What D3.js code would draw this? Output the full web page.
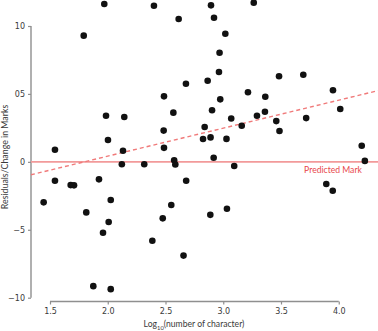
<!DOCTYPE html>
<html>
<head>
<meta charset="utf-8">
<script src="https://cdn.jsdelivr.net/npm/d3@7/dist/d3.min.js"></script>
<style>
  html, body { margin: 0; padding: 0; background: #fff; }
  svg { display: block; }
</style>
</head>
<body>
<script>
// Log10 of character count for each item
const logChars = [
  1.970, 2.400, 2.614, 1.792, 2.677, 2.487, 1.985, 2.143, 2.568, 2.484,
  2.002, 1.543, 2.132, 2.487, 2.575, 2.122, 2.316, 2.585, 2.894, 3.264,
  2.920, 3.018, 2.968, 2.963, 2.865, 3.483, 3.693, 3.950, 3.214, 3.364,
  2.974, 2.903, 4.013, 3.292, 3.361, 3.069, 3.718, 3.459, 2.839, 3.160,
  3.487, 2.825, 2.890, 3.028, 4.199, 2.917, 3.095, 4.226, 1.445, 1.543,
  1.679, 1.708, 1.924, 1.814, 2.026, 2.008, 1.959, 2.550, 2.476, 2.386,
  2.656, 2.679, 1.875, 2.026, 2.888, 3.032, 3.892, 3.948
];
// Residual (change in marks) for each item
const residuals = [
  11.62, 11.49, 10.52, 9.29, 5.75, 4.82, 3.39, 3.30, 3.62, 2.30,
  1.61, 0.89, 0.82, 1.03, 0.12, -0.18, -0.18, -0.20, 11.52, 11.72,
  10.61, 9.43, 8.03, 6.61, 5.97, 6.30, 6.41, 5.27, 5.12, 4.79,
  4.60, 3.80, 3.89, 3.39, 3.69, 3.19, 3.22, 3.00, 2.56, 2.66,
  2.27, 1.68, 1.80, 1.69, 1.19, 0.30, -0.31, 0.07, -2.98, -1.39,
  -1.71, -1.73, -1.29, -3.72, -2.81, -4.43, -5.22, -3.18, -4.16, -5.81,
  -6.90, -1.39, -9.15, -9.37, -3.90, -3.45, -1.63, -2.13
];

const xTicks = [1.5, 2.0, 2.5, 3.0, 3.5, 4.0];
const xTickLabels = ["1.5", "2.0", "2.5", "3.0", "3.5", "4.0"];
const yTicks = [-10, -5, 0, 5, 10];
const yTickLabels = ["\u221210", "\u22125", "0", "05", "10"];

// Fitted trend (intercept, slope) and the span it is drawn over
const trendIntercept = -3.70;
const trendSlope = 2.06;
const lineSpan = [1.335, 4.34];

const W = 378, H = 331;
const svg = d3.select("body").append("svg").attr("width", W).attr("height", H);

const x = d3.scaleLinear().domain([1.5, 4.0]).range([50, 338.75]);
const y = d3.scaleLinear().domain([-10, 10]).range([297.7, 26]);

const axisColor = "#8f8f8f";
const tickFont = "'DejaVu Sans', Verdana, sans-serif";
const titleFont = "Lato, 'Liberation Sans Narrow', sans-serif";

// Y axis
const yAxis = svg.append("g")
  .attr("transform", "translate(31,0)")
  .call(d3.axisLeft(y).tickValues(yTicks).tickSize(3).tickPadding(3)
    .tickFormat((d, i) => yTickLabels[i]));
// X axis
const xAxis = svg.append("g")
  .attr("transform", "translate(0,301.5)")
  .call(d3.axisBottom(x).tickValues(xTicks).tickSize(3).tickPadding(4)
    .tickFormat((d, i) => xTickLabels[i]));

[yAxis, xAxis].forEach(g => {
  g.select(".domain").attr("stroke", axisColor).attr("stroke-width", 1.4);
  g.selectAll(".tick line").attr("stroke", axisColor).attr("stroke-width", 1.2);
  g.selectAll(".tick text").attr("fill", "#3a3a3a").style("font-family", tickFont)
    .style("font-size", "8px");
});
// plain axis lines spanning only the tick range
yAxis.select(".domain").attr("d", `M0,${y(10)}V${y(-10)}`);
xAxis.select(".domain").attr("d", `M${x(1.5)},0H${x(4.0)}`);

// Zero reference line (predicted mark)
svg.append("line")
  .attr("x1", 31).attr("x2", W)
  .attr("y1", y(0)).attr("y2", y(0))
  .attr("stroke", "#f29a9a").attr("stroke-width", 1.8);

// Dashed trend line
svg.append("line")
  .attr("x1", x(lineSpan[0])).attr("x2", x(lineSpan[1]))
  .attr("y1", y(trendIntercept + trendSlope * lineSpan[0]))
  .attr("y2", y(trendIntercept + trendSlope * lineSpan[1]))
  .attr("stroke", "#f07a7a").attr("stroke-width", 1.4)
  .attr("stroke-dasharray", "4,3");

svg.append("text")
  .attr("x", 333).attr("y", 173)
  .attr("text-anchor", "middle")
  .attr("fill", "#e8474c")
  .style("font-family", titleFont).style("font-size", "8.6px")
  .text("Predicted Mark");

// Points
svg.append("g").selectAll("circle")
  .data(logChars.map((v, i) => [v, residuals[i]]))
  .join("circle")
  .attr("cx", d => x(d[0]))
  .attr("cy", d => y(d[1]))
  .attr("r", 3.3)
  .attr("fill", "#111");

// Axis titles
svg.append("text")
  .attr("transform", "translate(8,157) rotate(-90)")
  .attr("text-anchor", "middle")
  .attr("fill", "#3a3a3a")
  .style("font-family", titleFont).style("font-size", "8.8px")
  .text("Residuals/Change in Marks");

const xt = svg.append("text")
  .attr("x", 194).attr("y", 327)
  .attr("text-anchor", "middle")
  .attr("fill", "#3a3a3a")
  .style("font-family", titleFont).style("font-size", "8.6px");
xt.append("tspan").text("Log");
xt.append("tspan").attr("dy", 2.5).style("font-size", "5.8px").text("10");
xt.append("tspan").attr("dy", -2.5).text("(number of character)");
</script>
</body>
</html>
